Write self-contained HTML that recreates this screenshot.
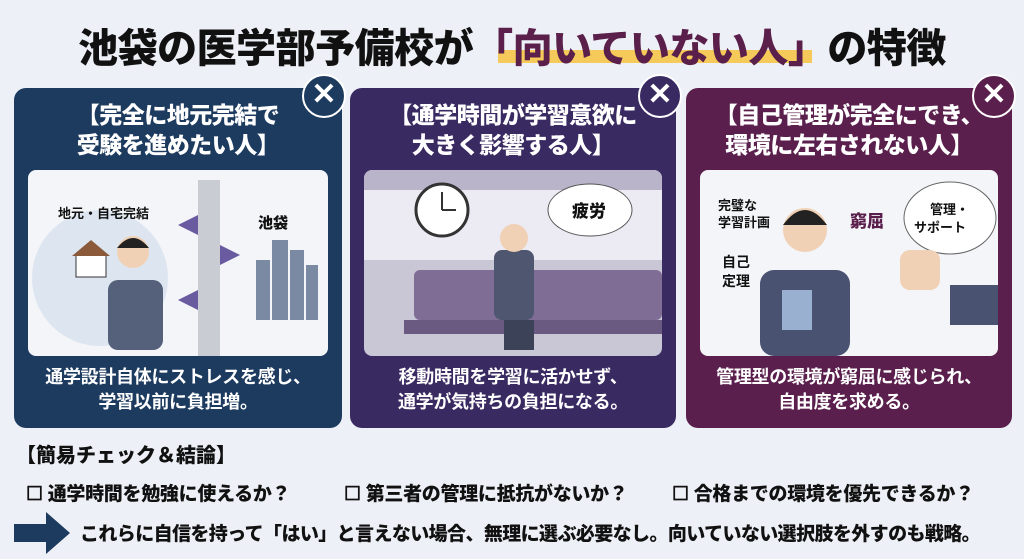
<!DOCTYPE html>
<html><head><meta charset="utf-8"><style>
body{margin:0;width:1024px;height:559px;background:#edf0f6;font-family:"Liberation Sans","Noto Sans CJK JP",sans-serif;position:relative;overflow:hidden}
.t{position:absolute;font-weight:900;white-space:nowrap}
.card{position:absolute;top:88px;height:340px;border-radius:12px}
.ct{position:absolute;left:0;right:0;text-align:center;color:#fff;font-weight:900;font-size:23px;line-height:30px;top:12px;letter-spacing:-0.5px}
.cb{position:absolute;left:0;right:0;text-align:center;color:#fff;font-weight:700;font-size:18px;line-height:25px;top:277px;letter-spacing:-0.3px}
.pic{position:absolute;left:14px;right:14px;top:82px;height:186px;border-radius:8px;background:#f4f5f8;overflow:hidden}
.x{position:absolute;width:40px;height:40px;border-radius:50%;border:2px solid #fff;color:#fff;font-size:30px;line-height:38px;text-align:center;font-weight:700;top:74px}
</style></head><body>
<div style="position:absolute;left:498px;top:50px;width:314px;height:13px;background:#f5c95a"></div>
<div class="t" style="left:0;right:0;top:16px;text-align:center;font-size:40px;color:#111;letter-spacing:-0.5px">池袋の医学部予備校が<span style="color:#5a1f4a">「向いていない人」</span>の特徴</div>

<div class="card" style="left:14px;width:328px;background:#1d3a5f">
<div class="ct">【完全に地元完結で<br>受験を進めたい人】</div>
<div class="pic">
<svg width="300" height="186"><circle cx="72" cy="108" r="68" fill="#dde6f0"/><text x="30" y="48" font-size="13" font-weight="700" fill="#111">地元・自宅完結</text>
<rect x="48" y="85" width="30" height="22" fill="#fff" stroke="#333"/><polygon points="44,86 63,70 82,86" fill="#8a5a3a"/>
<rect x="80" y="110" width="55" height="70" rx="10" fill="#55607a"/><circle cx="105" cy="82" r="16" fill="#f1d1b5"/><path d="M89 78 q16-20 32 0" fill="#222"/>
<rect x="170" y="10" width="22" height="176" fill="#c9cdd3"/><g fill="#6a5aa0"><polygon points="150,55 170,45 170,65"/><polygon points="212,85 192,75 192,95"/><polygon points="150,130 170,120 170,140"/></g>
<text x="230" y="58" font-size="15" font-weight="900" fill="#111">池袋</text>
<g fill="#7a8aa3"><rect x="228" y="90" width="14" height="60"/><rect x="244" y="70" width="16" height="80"/><rect x="262" y="80" width="14" height="70"/><rect x="278" y="95" width="12" height="55"/></g></svg>
</div>
<div class="cb">通学設計自体にストレスを感じ、<br>学習以前に負担増。</div></div>
<div class="x" style="left:302px;background:#1d3a5f">✕</div>

<div class="card" style="left:350px;width:326px;background:#3a2a62">
<div class="ct">【通学時間が学習意欲に<br>大きく影響する人】</div>
<div class="pic" style="background:#c9c6d6">
<svg width="298" height="186"><rect x="0" y="0" width="298" height="20" fill="#b9b4c9"/><rect x="0" y="20" width="298" height="70" fill="#eceaf2"/>
<circle cx="78" cy="40" r="26" fill="#fff" stroke="#333" stroke-width="3"/><line x1="78" y1="40" x2="78" y2="22" stroke="#333" stroke-width="2"/><line x1="78" y1="40" x2="92" y2="40" stroke="#333" stroke-width="2"/>
<ellipse cx="226" cy="40" rx="42" ry="26" fill="#fff" stroke="#555"/><text x="208" y="47" font-size="17" font-weight="900" fill="#111">疲労</text>
<rect x="50" y="100" width="248" height="50" rx="6" fill="#7f6d96"/><rect x="40" y="150" width="258" height="14" fill="#6a5a82"/>
<rect x="130" y="80" width="40" height="70" rx="8" fill="#4e5670"/><circle cx="150" cy="68" r="14" fill="#f1d1b5"/><rect x="140" y="150" width="30" height="30" fill="#3c4258"/></svg>
</div>
<div class="cb">移動時間を学習に活かせず、<br>通学が気持ちの負担になる。</div></div>
<div class="x" style="left:638px;background:#3a2a62">✕</div>

<div class="card" style="left:686px;width:326px;background:#5a1f4c">
<div class="ct">【自己管理が完全にでき、<br>環境に左右されない人】</div>
<div class="pic">
<svg width="298" height="186"><text x="18" y="40" font-size="13" font-weight="700" fill="#111">完璧な</text><text x="18" y="57" font-size="13" font-weight="700" fill="#111">学習計画</text>
<text x="22" y="97" font-size="14" font-weight="700" fill="#111">自己</text><text x="22" y="116" font-size="14" font-weight="700" fill="#111">定理</text>
<text x="150" y="57" font-size="17" font-weight="900" fill="#5a1f4c">窮屈</text>
<ellipse cx="250" cy="48" rx="46" ry="36" fill="#fff" stroke="#666"/><text x="230" y="44" font-size="13" font-weight="700" fill="#111">管理・</text><text x="214" y="62" font-size="13" font-weight="700" fill="#111">サポート</text>
<rect x="60" y="100" width="90" height="86" rx="14" fill="#4a5272"/><circle cx="105" cy="60" r="22" fill="#f1d1b5"/><path d="M83 55 q22-30 44 0" fill="#222"/>
<rect x="82" y="120" width="30" height="40" fill="#9ab0d0"/><rect x="200" y="80" width="40" height="40" rx="10" fill="#f1d1b5"/><rect x="250" y="115" width="48" height="40" fill="#4a5272"/></svg>
</div>
<div class="cb">管理型の環境が窮屈に感じられ、<br>自由度を求める。</div></div>
<div class="x" style="left:972px;background:#5a1f4c">✕</div>

<div class="t" style="left:16px;top:439px;font-size:20px;color:#111">【簡易チェック＆結論】</div>
<div class="t" style="left:26px;top:479px;font-size:19px;color:#111;letter-spacing:-0.3px">☐ 通学時間を勉強に使えるか？</div>
<div class="t" style="left:344px;top:479px;font-size:19px;color:#111;letter-spacing:-0.3px">☐ 第三者の管理に抵抗がないか？</div>
<div class="t" style="left:672px;top:479px;font-size:19px;color:#111;letter-spacing:-0.3px">☐ 合格までの環境を優先できるか？</div>
<svg style="position:absolute;left:14px;top:512px" width="58" height="42"><polygon points="0,12 32,12 32,0 56,21 32,42 32,30 0,30" fill="#1d3a5f"/></svg>
<div class="t" style="left:80px;top:519px;font-size:19px;color:#111;letter-spacing:-0.6px">これらに自信を持って「はい」と言えない場合、無理に選ぶ必要なし。向いていない選択肢を外すのも戦略。</div>
</body></html>
